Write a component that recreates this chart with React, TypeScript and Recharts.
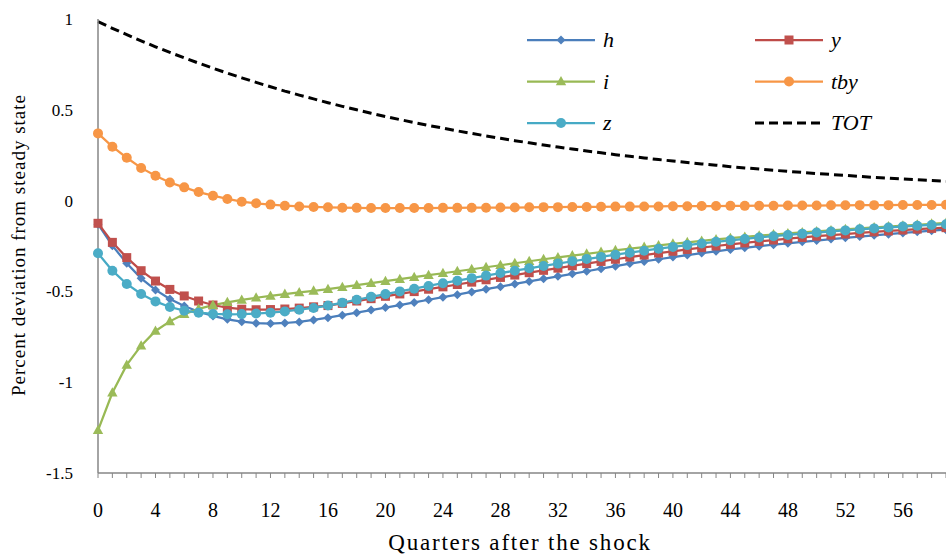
import React from 'react';
import { LineChart, Line, XAxis, YAxis, Legend } from 'recharts';

// quarters after the shock
const quarters = [
  0, 1, 2, 3, 4, 5, 6, 7, 8, 9, 10, 11, 12, 13, 14, 15, 16, 17, 18, 19,
  20, 21, 22, 23, 24, 25, 26, 27, 28, 29, 30, 31, 32, 33, 34, 35, 36, 37, 38, 39,
  40, 41, 42, 43, 44, 45, 46, 47, 48, 49, 50, 51, 52, 53, 54, 55, 56, 57, 58, 59,
];

const xTickLabels = [0, 4, 8, 12, 16, 20, 24, 28, 32, 36, 40, 44, 48, 52, 56];
const yTicks = [-1.5, -1, -0.5, 0, 0.5, 1];

const hVals = [
  -0.130, -0.248, -0.345, -0.428, -0.492, -0.542, -0.580, -0.612, -0.635, -0.654,
  -0.667, -0.675, -0.677, -0.674, -0.668, -0.657, -0.645, -0.631, -0.617, -0.603,
  -0.589, -0.575, -0.561, -0.546, -0.532, -0.518, -0.503, -0.488, -0.474, -0.459,
  -0.445, -0.431, -0.417, -0.403, -0.389, -0.375, -0.361, -0.347, -0.335, -0.323,
  -0.311, -0.300, -0.289, -0.279, -0.269, -0.260, -0.251, -0.243, -0.235, -0.227,
  -0.220, -0.212, -0.205, -0.198, -0.191, -0.185, -0.178, -0.172, -0.166, -0.160,
];

const yVals = [
  -0.125, -0.230, -0.314, -0.386, -0.443, -0.489, -0.525, -0.553, -0.575, -0.590,
  -0.598, -0.601, -0.600, -0.597, -0.592, -0.585, -0.578, -0.566, -0.553, -0.540,
  -0.527, -0.514, -0.501, -0.488, -0.475, -0.462, -0.449, -0.436, -0.423, -0.410,
  -0.397, -0.384, -0.372, -0.359, -0.347, -0.335, -0.323, -0.311, -0.300, -0.289,
  -0.279, -0.269, -0.259, -0.250, -0.241, -0.233, -0.225, -0.217, -0.210, -0.203,
  -0.196, -0.190, -0.184, -0.178, -0.172, -0.167, -0.162, -0.157, -0.153, -0.149,
];

const iVals = [
  -1.265, -1.058, -0.905, -0.799, -0.718, -0.665, -0.625, -0.596, -0.576, -0.560,
  -0.547, -0.535, -0.525, -0.515, -0.506, -0.497, -0.488, -0.477, -0.466, -0.455,
  -0.444, -0.433, -0.422, -0.411, -0.400, -0.389, -0.378, -0.367, -0.356, -0.345,
  -0.334, -0.323, -0.313, -0.303, -0.293, -0.283, -0.274, -0.265, -0.256, -0.247,
  -0.238, -0.230, -0.222, -0.214, -0.207, -0.200, -0.193, -0.187, -0.181, -0.175,
  -0.170, -0.164, -0.158, -0.153, -0.148, -0.143, -0.138, -0.133, -0.128, -0.123,
];

const tbyVals = [
  0.370, 0.297, 0.236, 0.180, 0.137, 0.100, 0.073, 0.047, 0.027, 0.009,
  -0.006, -0.015, -0.022, -0.028, -0.032, -0.035, -0.037, -0.039, -0.040, -0.041,
  -0.041, -0.041, -0.041, -0.041, -0.040, -0.040, -0.039, -0.039, -0.038, -0.038,
  -0.037, -0.036, -0.036, -0.035, -0.035, -0.034, -0.033, -0.033, -0.032, -0.032,
  -0.031, -0.031, -0.030, -0.030, -0.029, -0.029, -0.028, -0.028, -0.027, -0.027,
  -0.027, -0.026, -0.026, -0.025, -0.025, -0.025, -0.024, -0.024, -0.024, -0.023,
];

const zVals = [
  -0.290, -0.386, -0.459, -0.514, -0.555, -0.586, -0.606, -0.617, -0.624, -0.626,
  -0.625, -0.622, -0.617, -0.610, -0.601, -0.591, -0.578, -0.562, -0.546, -0.530,
  -0.515, -0.500, -0.485, -0.470, -0.455, -0.441, -0.427, -0.413, -0.399, -0.386,
  -0.373, -0.360, -0.347, -0.334, -0.322, -0.310, -0.298, -0.287, -0.276, -0.265,
  -0.255, -0.245, -0.236, -0.227, -0.219, -0.211, -0.203, -0.196, -0.189, -0.182,
  -0.176, -0.170, -0.164, -0.158, -0.153, -0.148, -0.143, -0.138, -0.134, -0.130,
];

const totVals = [
  0.985, 0.949, 0.914, 0.880, 0.847, 0.816, 0.786, 0.757, 0.729, 0.702,
  0.676, 0.651, 0.627, 0.603, 0.581, 0.560, 0.539, 0.519, 0.500, 0.481,
  0.463, 0.446, 0.430, 0.414, 0.399, 0.384, 0.370, 0.356, 0.343, 0.330,
  0.318, 0.306, 0.295, 0.284, 0.273, 0.263, 0.253, 0.244, 0.235, 0.226,
  0.218, 0.210, 0.202, 0.195, 0.187, 0.180, 0.174, 0.167, 0.161, 0.155,
  0.149, 0.144, 0.139, 0.133, 0.128, 0.124, 0.119, 0.115, 0.111, 0.107,
];

const data = quarters.map((q, k) => ({
  q,
  h: hVals[k],
  y: yVals[k],
  i: iVals[k],
  tby: tbyVals[k],
  z: zVals[k],
  TOT: totVals[k],
}));

const SERIF = "'Liberation Serif', 'Times New Roman', serif";
const AXIS_GRAY = '#868686';

type Marker = 'diamond' | 'square' | 'triangle' | 'circle' | 'none';

const series: { key: string; line: string; fill: string; marker: Marker; dashed?: boolean }[] = [
  { key: 'h', line: '#4A7EBB', fill: '#4F81BD', marker: 'diamond' },
  { key: 'y', line: '#BE4B48', fill: '#C0504D', marker: 'square' },
  { key: 'i', line: '#98B954', fill: '#9BBB59', marker: 'triangle' },
  { key: 'tby', line: '#F79646', fill: '#F79646', marker: 'circle' },
  { key: 'z', line: '#46AAC5', fill: '#4BACC6', marker: 'circle' },
  { key: 'TOT', line: '#000000', fill: '#000000', marker: 'none', dashed: true },
];

function markerShape(shape: Marker, fill: string, cx: number, cy: number, key?: React.Key) {
  switch (shape) {
    case 'diamond':
      return <polygon key={key} points={`${cx},${cy - 4.5} ${cx + 4.5},${cy} ${cx},${cy + 4.5} ${cx - 4.5},${cy}`} fill={fill} />;
    case 'square':
      return <rect key={key} x={cx - 4.5} y={cy - 4.5} width={9} height={9} fill={fill} />;
    case 'triangle':
      return <polygon key={key} points={`${cx},${cy - 5.5} ${cx + 5.2},${cy + 3.8} ${cx - 5.2},${cy + 3.8}`} fill={fill} />;
    case 'circle':
      return <circle key={key} cx={cx} cy={cy} r={5} fill={fill} />;
    default:
      return <g key={key} />;
  }
}

const makeDot = (shape: Marker, fill: string) => (props: any) => {
  const { cx, cy, index } = props;
  if (cx == null || cy == null) return <g key={index} />;
  return markerShape(shape, fill, cx, cy, index);
};

// legend: two columns, three rows
const LegendBox = () => (
  <svg width={400} height={125} style={{ display: 'block' }}>
    {series.map((s, k) => {
      const col = k % 2;
      const row = Math.floor(k / 2);
      const x0 = col ? 237 : 9;
      const yc = 22 + row * 41.5;
      return (
        <g key={s.key}>
          <line
            x1={x0}
            x2={x0 + 68}
            y1={yc}
            y2={yc}
            stroke={s.line}
            strokeWidth={s.dashed ? 3 : 2.25}
            strokeDasharray={s.dashed ? '9 5' : undefined}
          />
          {markerShape(s.marker, s.fill, x0 + 34, yc)}
          <text x={x0 + 76} y={yc + 7} fontFamily={SERIF} fontStyle="italic" fontSize={22} fill="#000">
            {s.key}
          </text>
        </g>
      );
    })}
  </svg>
);

const YTitle = () => (
  <text
    x={18}
    y={245}
    transform="rotate(-90 18 245)"
    textAnchor="middle"
    dominantBaseline="central"
    fontFamily={SERIF}
    fontSize={19}
    letterSpacing={1}
    fill="#000"
  >
    Percent deviation from steady state
  </text>
);

const XTitle = () => (
  <text x={520} y={550} textAnchor="middle" fontFamily={SERIF} fontSize={23} letterSpacing={1.8} fill="#000">
    Quarters after the shock
  </text>
);

export default function App() {
  return (
    <div style={{ position: 'absolute', left: 0, top: 0, width: 946, height: 560, background: '#fff' }}>
      <LineChart width={946} height={560} data={data} margin={{ top: 19, right: 0, bottom: 0, left: 0 }}>
        <XAxis
          dataKey="q"
          type="number"
          domain={[0, 59]}
          ticks={quarters}
          interval={0}
          height={87}
          axisLine={{ stroke: AXIS_GRAY, strokeWidth: 1.5 }}
          tickLine={{ stroke: AXIS_GRAY, strokeWidth: 1 }}
          tickSize={5}
          tickMargin={25}
          tickFormatter={(v: number) => (xTickLabels.includes(v) ? String(v) : '')}
          tick={{ fill: '#000', fontFamily: SERIF, fontSize: 20 }}
          label={<XTitle />}
        />
        <YAxis
          type="number"
          domain={[-1.5, 1]}
          ticks={yTicks}
          interval={0}
          width={98}
          axisLine={{ stroke: AXIS_GRAY, strokeWidth: 1.5 }}
          tickLine={false}
          tickSize={0}
          tickMargin={25}
          tick={{ fill: '#000', fontFamily: SERIF, fontSize: 17 }}
          label={<YTitle />}
        />
        <Legend
          layout="horizontal"
          verticalAlign="middle"
          align="center"
          wrapperStyle={{ left: 518, top: 18, width: 400, height: 125 }}
          content={() => <LegendBox />}
        />
        {series.map((s) => (
          <Line
            key={s.key}
            dataKey={s.key}
            type="linear"
            stroke={s.line}
            strokeWidth={s.dashed ? 3 : 2.25}
            strokeDasharray={s.dashed ? '9 5' : undefined}
            dot={s.marker === 'none' ? false : makeDot(s.marker, s.fill)}
            activeDot={false}
            isAnimationActive={false}
          />
        ))}
      </LineChart>
    </div>
  );
}
